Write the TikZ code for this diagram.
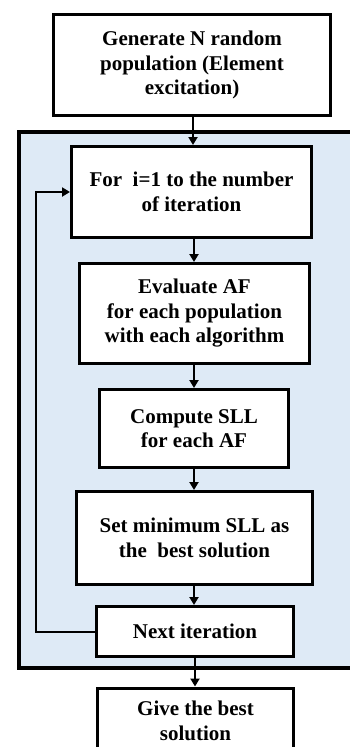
\documentclass[tikz,border=0pt]{standalone}
\usepackage{fontspec}
\setmainfont{Liberation Serif}
\usetikzlibrary{arrows.meta}
\definecolor{panelblue}{RGB}{222,234,246}
\tikzset{
  stepbox/.style={draw=black, line width=3pt, fill=white, align=center,
    inner sep=0pt, font=\bfseries\fontsize{21}{24.5}\selectfont},
  flow/.style={line width=2pt, -{Triangle[length=8pt,width=9pt]}},
}
\begin{document}
\begin{tikzpicture}[x=1pt,y=-1pt]
\useasboundingbox (0,0) rectangle (350,747);
\clip (0,0) rectangle (350,747);
% shaded loop panel
\draw[line width=4.5pt, fill=panelblue] (19,132) rectangle (370,668);
% process steps
\node[stepbox, minimum width=277pt, minimum height=101pt] (gen) at (192,65)
  {Generate N random\\population (Element\\excitation)};
\node[stepbox, minimum width=240pt, minimum height=91pt] (loop) at (191.5,192)
  {For\ \ i=1 to the number\\of iteration};
\node[stepbox, minimum width=230pt, minimum height=100pt] (eval) at (194.5,313.5)
  {Evaluate AF\\for each population\\with each algorithm};
\node[stepbox, minimum width=189pt, minimum height=78pt] (sll) at (194,428.5)
  {Compute SLL\\for each AF};
\node[stepbox, minimum width=236pt, minimum height=93pt] (best) at (194.5,538)
  {Set minimum SLL as\\the\ \ best solution};
\node[stepbox, minimum width=197pt, minimum height=50pt] (next) at (195,631.5)
  {Next iteration};
\node[stepbox, minimum width=196pt, minimum height=70pt, anchor=north] (give) at (195.5,686.5)
  {\raisebox{0pt}[0pt][0pt]{}\\[-14pt]Give the best\\solution};
% connectors
\draw[flow] (gen.south -| 193,0) -- (loop.north -| 193,0);
\draw[flow] (loop.south -| 194,0) -- (eval.north -| 194,0);
\draw[flow] (eval.south -| 194,0) -- (sll.north -| 194,0);
\draw[flow] (sll.south -| 194,0) -- (best.north -| 194,0);
\draw[flow] (best.south -| 194,0) -- (next.north -| 194,0);
\draw[flow] (next.south -| 195,0) -- (give.north -| 195,0);
\coordinate (back) at (36,631.5);
\draw[flow] (next.west) -- (back) |- (loop.west);
\end{tikzpicture}
\end{document}
